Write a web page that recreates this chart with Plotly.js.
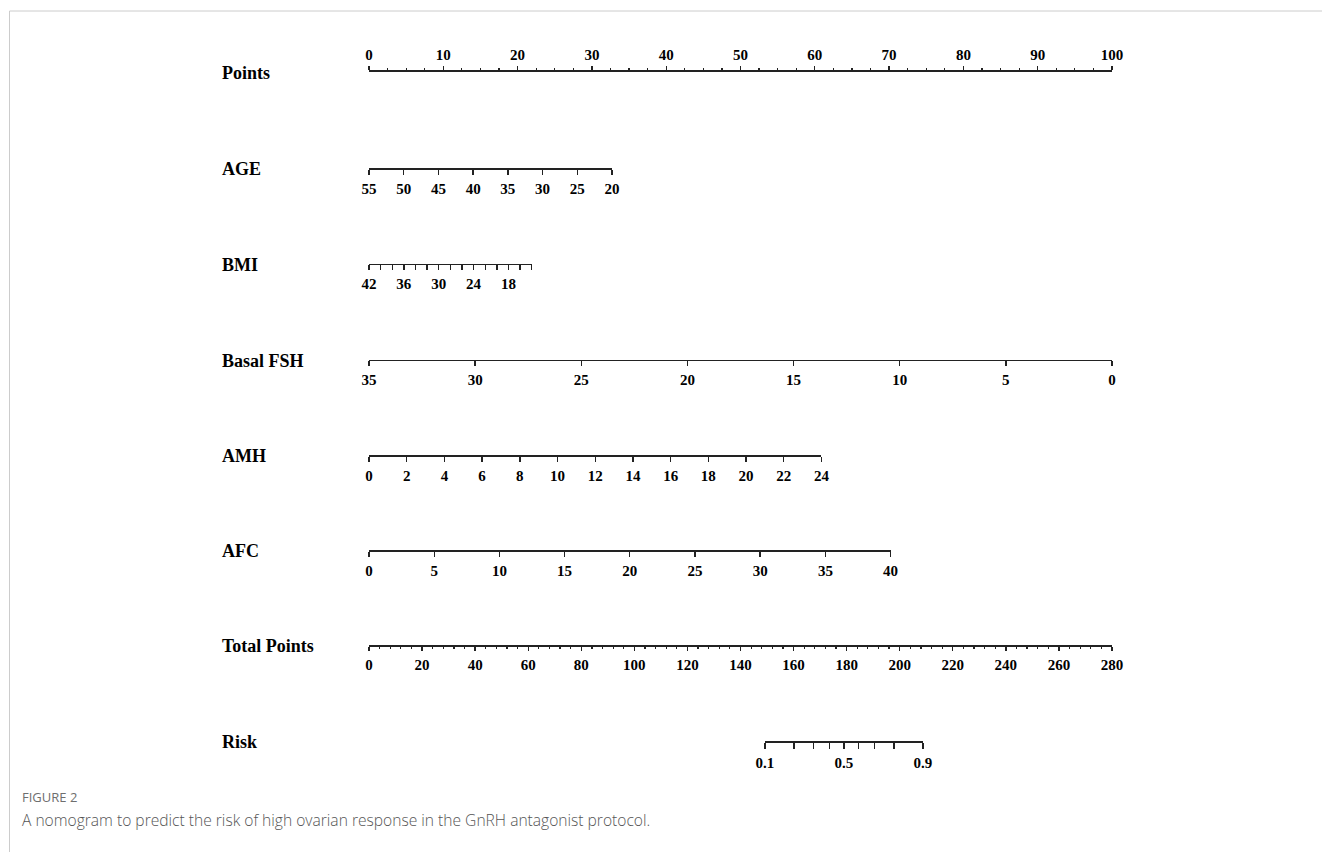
<!DOCTYPE html>
<html>
<head>
<meta charset="utf-8">
<script src="https://cdn.plot.ly/plotly-3.0.1.min.js"></script>
<style>
html,body{margin:0;padding:0;background:#fff;}
#chart{width:1322px;height:852px;}
</style>
</head>
<body>
<div id="chart"></div>
<script>
// ---------- DATA ----------
const rowLabels = ['Points', 'AGE', 'BMI', 'Basal FSH', 'AMH', 'AFC', 'Total Points', 'Risk'];

const pointsScale = [0, 100];

const ageRange = [55, 20];
const agePoints = [0, 32.7];

const bmiTicks = [42, 40, 38, 36, 34, 32, 30, 28, 26, 24, 22, 20, 18, 16, 14];
const bmiTickText = ['42', '', '', '36', '', '', '30', '', '', '24', '', '', '18', '', ''];
const bmiPoints = [0, 21.9];

const fshRange = [35, 0];
const fshPoints = [0, 100];

const amhRange = [0, 24];
const amhPoints = [0, 60.9];

const afcRange = [0, 40];
const afcPoints = [0, 70.2];

const totalRange = [0, 280];

const riskValues = [0.1, 0.2, 0.3, 0.4, 0.5, 0.6, 0.7, 0.8, 0.9];
const riskTotalPoints = [149.2, 160.2, 167.5, 173.5, 179.0, 184.5, 190.5, 197.8, 208.7];
const riskTickText = ['0.1', '', '', '', '0.5', '', '', '', '0.9'];

const figureLabel = 'FIGURE 2';
const captionText = 'A nomogram to predict the risk of high ovarian response in the GnRH antagonist protocol.';

// ---------- LAYOUT GEOMETRY ----------
const W = 1322, H = 852;
const ORIGIN_PX = 369, END_PX = 1112;
const rowY = [72, 168, 263.5, 359.5, 455, 550, 645, 741];
const labelX = 222;

function ptsToPx(p) {
  return ORIGIN_PX + (p - pointsScale[0]) / (pointsScale[1] - pointsScale[0]) * (END_PX - ORIGIN_PX);
}
function totToPx(t) {
  return ORIGIN_PX + (t - totalRange[0]) / (totalRange[1] - totalRange[0]) * (END_PX - ORIGIN_PX);
}

const tickFont = {family: 'Liberation Serif, Times New Roman, serif', size: 15, color: '#000', weight: 'bold'};
const lineColor = '#222';

const axes = [
  {range: pointsScale, dom: [ptsToPx(pointsScale[0]), ptsToPx(pointsScale[1])], dtick: 10, ticklen: 4, minor: {dtick: 2.5, ticklen: 2}, side: 'top'},
  {range: ageRange, dom: [ptsToPx(agePoints[0]), ptsToPx(agePoints[1])], dtick: 5, ticklen: 5},
  {range: [bmiTicks[0], bmiTicks[bmiTicks.length - 1]], dom: [ptsToPx(bmiPoints[0]), ptsToPx(bmiPoints[1])], tickvals: bmiTicks, ticktext: bmiTickText, ticklen: 5},
  {range: fshRange, dom: [ptsToPx(fshPoints[0]), ptsToPx(fshPoints[1])], dtick: 5, ticklen: 5},
  {range: amhRange, dom: [ptsToPx(amhPoints[0]), ptsToPx(amhPoints[1])], dtick: 2, ticklen: 5},
  {range: afcRange, dom: [ptsToPx(afcPoints[0]), ptsToPx(afcPoints[1])], dtick: 5, ticklen: 5},
  {range: totalRange, dom: [totToPx(totalRange[0]), totToPx(totalRange[1])], dtick: 20, ticklen: 4, minor: {dtick: 4, ticklen: 2}},
  {range: [riskTotalPoints[0], riskTotalPoints[riskTotalPoints.length - 1]], dom: [totToPx(riskTotalPoints[0]), totToPx(riskTotalPoints[riskTotalPoints.length - 1])], tickvals: riskTotalPoints, ticktext: riskTickText, ticklen: 6}
];

const traces = [];
const layout = {
  width: W, height: H,
  margin: {l: 0, r: 0, t: 0, b: 0},
  paper_bgcolor: '#fff', plot_bgcolor: 'rgba(0,0,0,0)',
  showlegend: false,
  annotations: [],
  shapes: []
};

axes.forEach((a, i) => {
  const sfx = i === 0 ? '' : String(i + 1);
  const yf = 1 - rowY[i] / H;
  const top = a.side === 'top';
  const xa = {
    domain: [a.dom[0] / W, a.dom[1] / W],
    anchor: 'y' + sfx,
    side: top ? 'top' : 'bottom',
    range: a.range, autorange: false, fixedrange: true,
    showline: true, linecolor: lineColor, linewidth: 1.6,
    showgrid: false, zeroline: false,
    ticks: 'outside', ticklen: a.ticklen, tickwidth: 1.4, tickcolor: lineColor,
    tickfont: tickFont,
    ticklabelstandoff: top ? 0 : 1
  };
  if (a.tickvals) {
    xa.tickmode = 'array'; xa.tickvals = a.tickvals; xa.ticktext = a.ticktext;
  } else {
    xa.tickmode = 'linear'; xa.tick0 = 0; xa.dtick = a.dtick;
  }
  if (a.minor) {
    xa.minor = {dtick: a.minor.dtick, tick0: 0, ticklen: a.minor.ticklen, ticks: 'outside', tickcolor: lineColor, tickwidth: 1.2, showgrid: false};
  }
  layout['xaxis' + sfx] = xa;
  layout['yaxis' + sfx] = {
    domain: top ? [yf - 0.004, yf] : [yf, yf + 0.004],
    anchor: 'x' + sfx,
    range: [0, 1], autorange: false, fixedrange: true, visible: false
  };
  const xs = a.tickvals ? a.tickvals : a.range;
  traces.push({
    type: 'scatter', mode: 'markers',
    x: xs, y: xs.map(() => 0.5),
    xaxis: 'x' + sfx, yaxis: 'y' + sfx,
    marker: {opacity: 0, size: 1},
    hoverinfo: 'skip', showlegend: false
  });
  layout.annotations.push({
    xref: 'paper', yref: 'paper',
    x: (labelX - 2) / W, y: 1 - (rowY[i] + 1) / H,
    xanchor: 'left', yanchor: 'middle',
    text: rowLabels[i], showarrow: false,
    font: {family: 'Liberation Serif, Times New Roman, serif', size: 18, color: '#000', weight: 'bold'}
  });
});

// caption
layout.annotations.push({
  xref: 'paper', yref: 'paper', x: 20 / W, y: 1 - 797 / H,
  xanchor: 'left', yanchor: 'middle', showarrow: false,
  text: figureLabel,
  font: {family: 'Open Sans, Noto Sans, sans-serif', size: 13, color: '#6e6e6e'}
});
layout.annotations.push({
  xref: 'paper', yref: 'paper', x: 20 / W, y: 1 - 820 / H,
  xanchor: 'left', yanchor: 'middle', showarrow: false,
  text: captionText,
  font: {family: 'Open Sans, Noto Sans, sans-serif', size: 15.6, color: '#555', weight: 300}
});

// page frame lines
layout.shapes.push({type: 'line', xref: 'paper', yref: 'paper', x0: 9.5 / W, x1: 1, y0: 1 - 11 / H, y1: 1 - 11 / H, line: {color: '#cccccc', width: 1}});
layout.shapes.push({type: 'line', xref: 'paper', yref: 'paper', x0: 9.5 / W, x1: 9.5 / W, y0: 1 - 11 / H, y1: 0, line: {color: '#cccccc', width: 1}});

Plotly.newPlot('chart', traces, layout, {staticPlot: true, displayModeBar: false});
</script>
</body>
</html>
